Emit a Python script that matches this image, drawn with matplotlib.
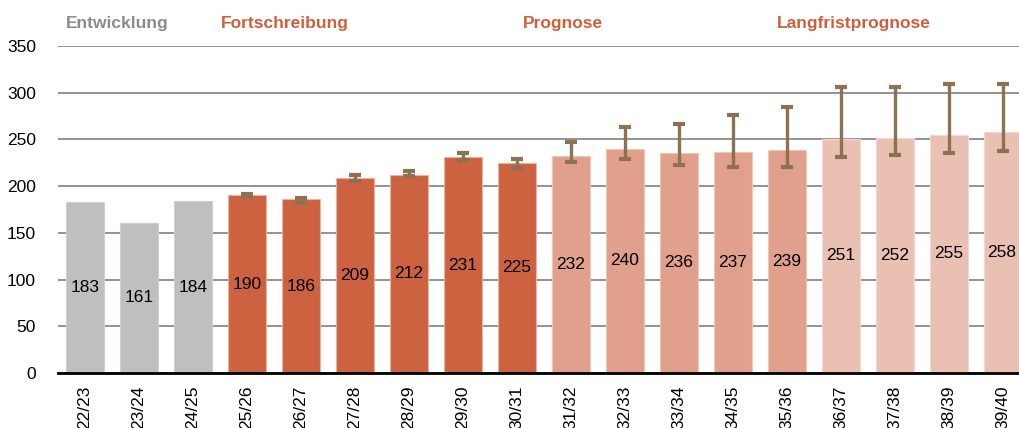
import matplotlib.pyplot as plt
import matplotlib.transforms as mtransforms
import numpy as np

plt.rcParams['font.family'] = ['Liberation Sans', 'DejaVu Sans']

jahre = ['22/23', '23/24', '24/25', '25/26', '26/27', '27/28', '28/29', '29/30', '30/31',
         '31/32', '32/33', '33/34', '34/35', '35/36', '36/37', '37/38', '38/39', '39/40']
werte = [183, 161, 184, 190, 186, 209, 212, 231, 225,
         232, 240, 236, 237, 239, 251, 252, 255, 258]
# untere / obere Grenze der Fehlerbalken (None = kein Balken)
unten = [None, None, None, 189, 182, 205, 211, 228, 219,
         225.5, 229, 223, 221, 221, 231, 233, 235.5, 238]
oben = [None, None, None, 192, 187, 212, 216, 236, 229.5,
        247, 263.5, 266.5, 276.5, 285, 306.5, 306.5, 309, 309]
phase = ['e'] * 3 + ['f'] * 6 + ['p'] * 5 + ['l'] * 4

farben = {'e': '#bfbfbf', 'f': '#cc6240', 'p': '#e0a08b', 'l': '#eac0b3'}
kanten = {'e': '#d0d0d0', 'f': '#e8b4a3', 'p': '#efc7b9', 'l': '#f3d9d0'}
kopf = [('Entwicklung', 0.6, '#8c8c8c'), ('Fortschreibung', 3.7, '#d0603c'),
        ('Prognose', 8.85, '#d0603c'), ('Langfristprognose', 14.24, '#d0603c')]

fig = plt.figure(figsize=(10.19, 4.28), dpi=100)
ax = fig.add_axes([0.057, 0.1285, 0.943, 0.764])

x = np.arange(len(jahre))
bars = ax.bar(x, werte, width=0.71, color=[farben[p] for p in phase],
              edgecolor=[kanten[p] for p in phase], linewidth=0.8, zorder=2)

for i in range(len(jahre)):
    if unten[i] is None:
        continue
    mitte = (unten[i] + oben[i]) / 2
    ax.errorbar(x[i], mitte, yerr=(oben[i] - unten[i]) / 2, fmt='none',
                ecolor='#8c7152', elinewidth=2.4, capsize=4.3, capthick=3, zorder=3)

ax.bar_label(bars, labels=[str(v) for v in werte], label_type='center',
             fontsize=12.5, color='black')

ax.set_ylim(0, 350)
ax.set_xlim(-0.5, 17.3)
ax.set_yticks(range(0, 351, 50))
ax.yaxis.grid(True, color='#808080', linewidth=1.2, zorder=0)
ax.set_axisbelow(True)
for s in ['top', 'right', 'left']:
    ax.spines[s].set_visible(False)
ax.spines['bottom'].set_linewidth(2)
ax.spines['bottom'].set_zorder(4)
ax.tick_params(axis='y', length=0, pad=16, labelsize=12.5)
ax.tick_params(axis='x', length=0, pad=9, labelsize=12.5)
ax.set_xticks(x)
ax.set_xticklabels(jahre, rotation=90)

trans = mtransforms.blended_transform_factory(ax.transData, fig.transFigure)
for text, pos, col in kopf:
    ax.text(pos, 0.944, text, transform=trans, ha='center', va='center',
            fontsize=12.5, fontweight='bold', color=col)

fig.savefig('out.png', dpi=100)
